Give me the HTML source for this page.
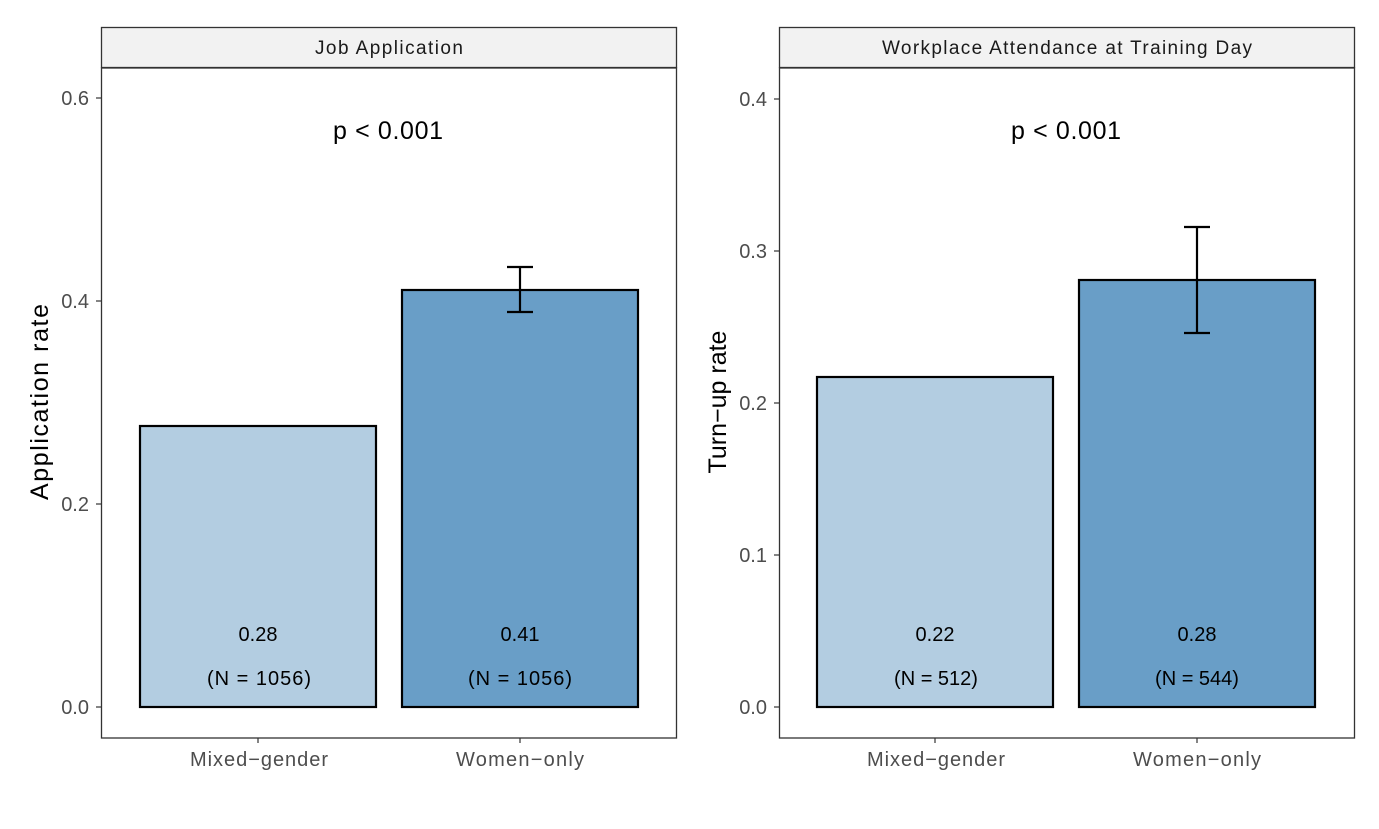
<!DOCTYPE html>
<html><head><meta charset="utf-8"><style>body{margin:0;background:#fff}svg{display:block}</style></head><body>
<svg width="1379" height="829" xmlns="http://www.w3.org/2000/svg" font-family="Liberation Sans, Arial, sans-serif">
<rect width="1379" height="829" fill="#fff"/>
<!-- LEFT PANEL -->
<rect x="101.5" y="27.5" width="575" height="40" fill="#f2f2f2" stroke="#333" stroke-width="1.3"/>
<text x="389" y="54" font-size="19" text-anchor="middle" fill="#1a1a1a" textLength="148">Job Application</text>
<rect x="101.5" y="68" width="575" height="670" fill="#fff" stroke="#333" stroke-width="1.3"/>
<g font-size="20" fill="#4d4d4d" text-anchor="end">
<text x="89" y="714">0.0</text><text x="89" y="511">0.2</text><text x="89" y="308">0.4</text><text x="89" y="105">0.6</text></g>
<g stroke="#333" stroke-width="1.2"><line x1="96" x2="101" y1="707" y2="707"/><line x1="96" x2="101" y1="504" y2="504"/><line x1="96" x2="101" y1="301" y2="301"/><line x1="96" x2="101" y1="98" y2="98"/>
<line x1="258" x2="258" y1="738" y2="743"/><line x1="520" x2="520" y1="738" y2="743"/></g>
<text transform="translate(48,402) rotate(-90)" font-size="25" text-anchor="middle" fill="#000" textLength="196">Application rate</text>
<rect x="140" y="426" width="236" height="281" fill="#b3cde1" stroke="#000" stroke-width="2.2"/>
<rect x="402" y="290" width="236" height="417" fill="#699ec7" stroke="#000" stroke-width="2.2"/>
<g stroke="#000" stroke-width="2.2"><line x1="520" x2="520" y1="267" y2="312"/><line x1="507" x2="533" y1="267" y2="267"/><line x1="507" x2="533" y1="312" y2="312"/></g>
<text x="388" y="139" font-size="25" text-anchor="middle" textLength="110">p &lt; 0.001</text>
<g font-size="20" text-anchor="middle" fill="#000">
<text x="258" y="641">0.28</text><text x="259" y="685" textLength="104">(N = 1056)</text>
<text x="520" y="641">0.41</text><text x="520" y="685" textLength="104">(N = 1056)</text></g>
<g font-size="20" text-anchor="middle" fill="#4d4d4d"><text x="259" y="766" textLength="138">Mixed−gender</text><text x="520" y="766" textLength="128">Women−only</text></g>
<!-- RIGHT PANEL -->
<rect x="779.5" y="27.5" width="575" height="40" fill="#f2f2f2" stroke="#333" stroke-width="1.3"/>
<text x="1067" y="54" font-size="19" text-anchor="middle" fill="#1a1a1a" textLength="370">Workplace Attendance at Training Day</text>
<rect x="779.5" y="68" width="575" height="670" fill="#fff" stroke="#333" stroke-width="1.3"/>
<g font-size="20" fill="#4d4d4d" text-anchor="end">
<text x="767" y="714">0.0</text><text x="767" y="562">0.1</text><text x="767" y="410">0.2</text><text x="767" y="258">0.3</text><text x="767" y="106">0.4</text></g>
<g stroke="#333" stroke-width="1.2"><line x1="774" x2="779" y1="707" y2="707"/><line x1="774" x2="779" y1="555" y2="555"/><line x1="774" x2="779" y1="403" y2="403"/><line x1="774" x2="779" y1="251" y2="251"/><line x1="774" x2="779" y1="99" y2="99"/>
<line x1="935" x2="935" y1="738" y2="743"/><line x1="1197" x2="1197" y1="738" y2="743"/></g>
<text transform="translate(726,402) rotate(-90)" font-size="25" text-anchor="middle" fill="#000">Turn−up rate</text>
<rect x="817" y="377" width="236" height="330" fill="#b3cde1" stroke="#000" stroke-width="2.2"/>
<rect x="1079" y="280" width="236" height="427" fill="#699ec7" stroke="#000" stroke-width="2.2"/>
<g stroke="#000" stroke-width="2.2"><line x1="1197" x2="1197" y1="227" y2="333"/><line x1="1184" x2="1210" y1="227" y2="227"/><line x1="1184" x2="1210" y1="333" y2="333"/></g>
<text x="1066" y="139" font-size="25" text-anchor="middle" textLength="110">p &lt; 0.001</text>
<g font-size="20" text-anchor="middle" fill="#000">
<text x="935" y="641">0.22</text><text x="936" y="685">(N = 512)</text>
<text x="1197" y="641">0.28</text><text x="1197" y="685">(N = 544)</text></g>
<g font-size="20" text-anchor="middle" fill="#4d4d4d"><text x="936" y="766" textLength="138">Mixed−gender</text><text x="1197" y="766" textLength="128">Women−only</text></g>
</svg>
</body></html>
